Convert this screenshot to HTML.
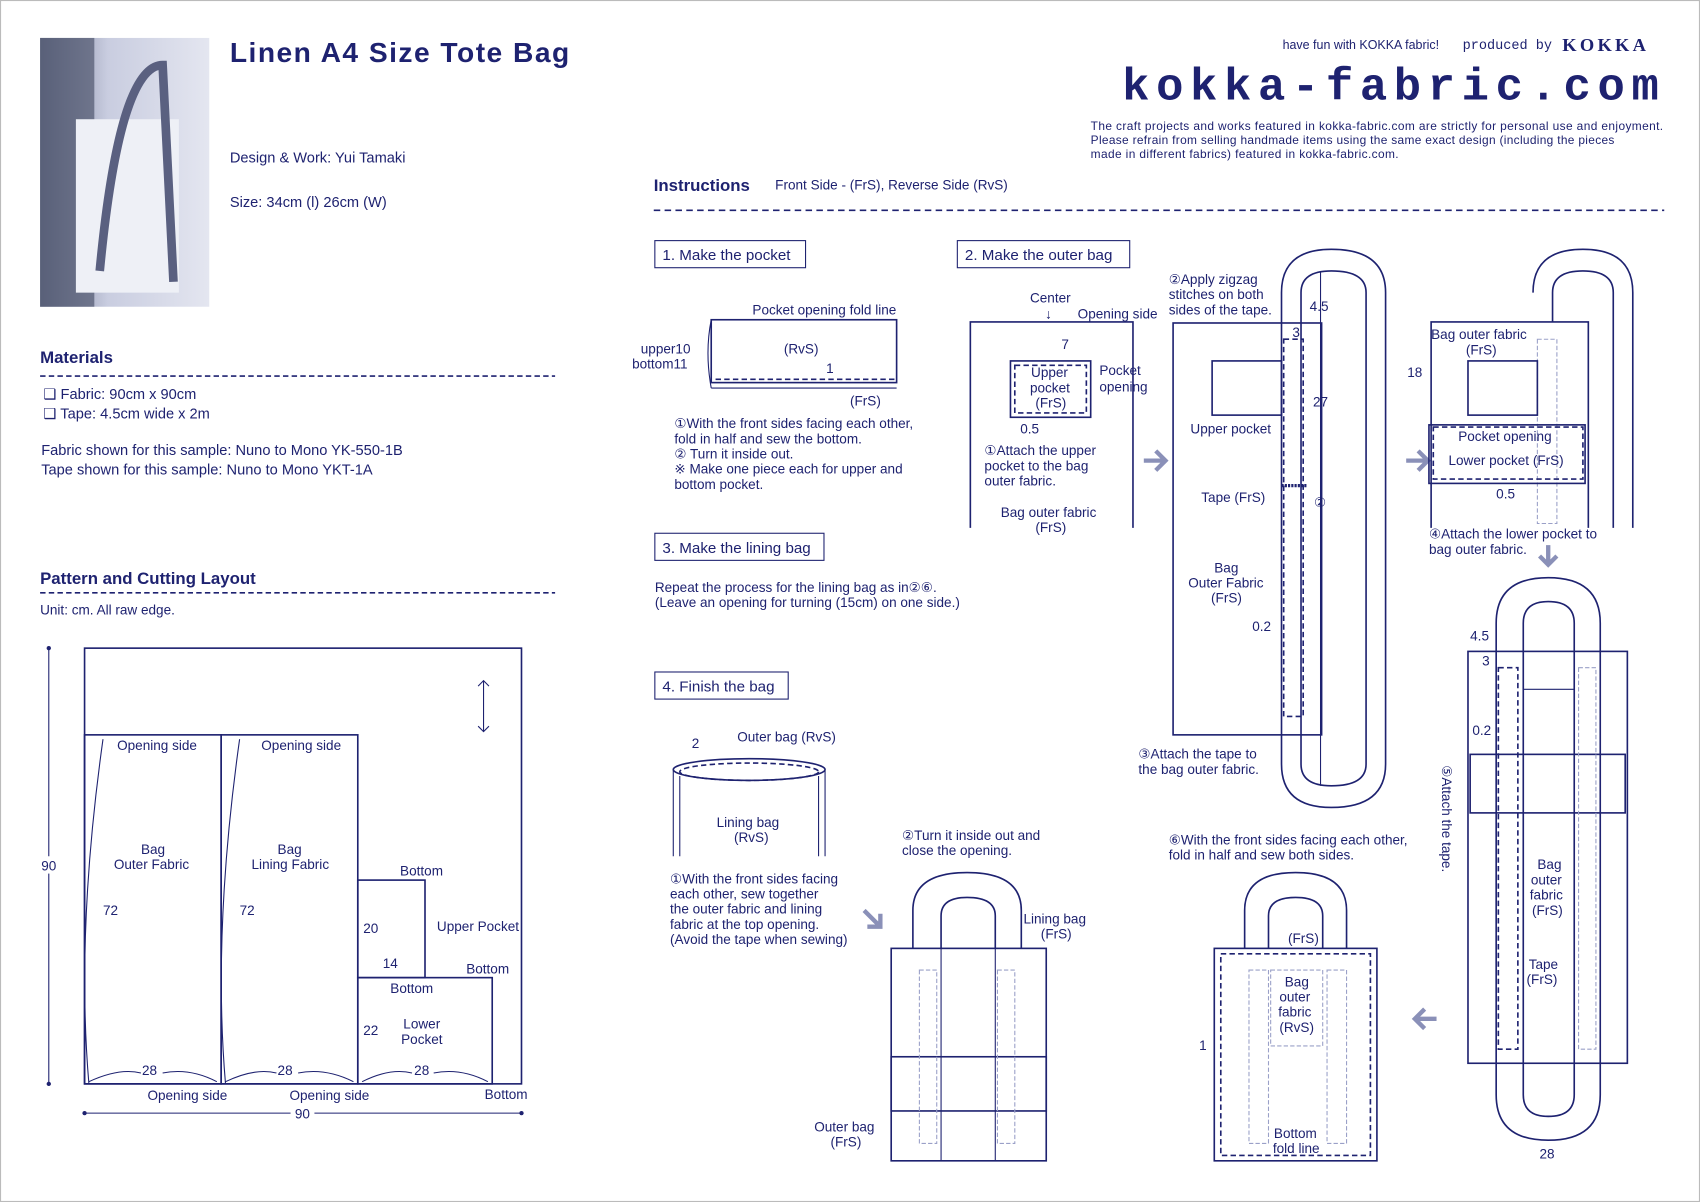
<!DOCTYPE html>
<html><head><meta charset="utf-8"><style>
html,body{margin:0;padding:0;background:#fff}
svg{display:block}
text{font-family:"Liberation Sans",sans-serif;fill:#1e2270;font-size:12.5px}
.b{font-weight:bold}
.l{fill:none;stroke:#1e2270;stroke-width:1.5}
.t{fill:none;stroke:#1e2270;stroke-width:1}
.d{fill:none;stroke:#1e2270;stroke-width:2;stroke-dasharray:5 3}
.g{fill:none;stroke:#9aa0c8;stroke-width:1;stroke-dasharray:4 2}
</style></head><body>
<svg width="1700" height="1202" viewBox="0 0 1568 1109" preserveAspectRatio="none">
<rect x="0.5" y="0.5" width="1567" height="1108" fill="#fff" stroke="#bbb"/>
<defs><linearGradient id="ph" x1="0" x2="1"><stop offset="0" stop-color="#6f7690"/><stop offset="0.4" stop-color="#c9cde0"/><stop offset="1" stop-color="#e4e6f0"/></linearGradient></defs>
<rect x="37" y="35" width="156" height="248" fill="url(#ph)"/>
<rect x="37" y="35" width="50" height="248" fill="#50576f" opacity="0.7"/>
<rect x="70" y="110" width="95" height="160" fill="#eef0f6"/>
<path d="M92 250 Q110 60 150 60 L160 260" fill="none" stroke="#5a6080" stroke-width="8"/>
<text x="212" y="57" class="b" style="font-size:26px" textLength="313">Linen A4 Size Tote Bag</text>
<text x="212" y="150" style="font-size:13.5px">Design &amp; Work: Yui Tamaki</text>
<text x="212" y="191" style="font-size:13.5px">Size: 34cm (l)  26cm (W)</text>
<text x="37" y="335" class="b" style="font-size:15.5px">Materials</text>
<line x1="37" y1="347" x2="512" y2="347" class="t" stroke-dasharray="5 3" style="stroke-width:1.5"/>
<text x="40" y="368" style="font-size:13.5px">❑ Fabric: 90cm x 90cm</text>
<text x="40" y="386" style="font-size:13.5px">❑ Tape: 4.5cm wide x 2m</text>
<text x="38" y="420" style="font-size:13.5px">Fabric shown for this sample: Nuno to Mono YK-550-1B</text>
<text x="38" y="438" style="font-size:13.5px">Tape shown for this sample: Nuno to Mono YKT-1A</text>
<text x="37" y="539" class="b" style="font-size:15.5px">Pattern and Cutting Layout</text>
<line x1="37" y1="547" x2="512" y2="547" class="t" stroke-dasharray="5 3" style="stroke-width:1.5"/>
<text x="37" y="567">Unit: cm.   All raw edge.</text>
<rect x="78" y="598" width="403" height="402" class="l"/>
<rect x="78" y="678" width="126" height="322" class="l"/>
<rect x="204" y="678" width="126" height="322" class="l"/>
<rect x="330" y="812" width="62" height="90" class="l"/>
<rect x="330" y="902" width="124" height="98" class="l"/>
<line x1="45" y1="598" x2="45" y2="1000" class="t"/><circle cx="45" cy="598" r="2" fill="#1e2270"/><circle cx="45" cy="1000" r="2" fill="#1e2270"/>
<line x1="78" y1="1027" x2="481" y2="1027" class="t"/><circle cx="78" cy="1027" r="2" fill="#1e2270"/><circle cx="481" cy="1027" r="2" fill="#1e2270"/>
<rect x="36" y="790" width="18" height="16" fill="#fff"/><text x="38" y="803">90</text>
<rect x="268" y="1020" width="22" height="14" fill="#fff"/><text x="272" y="1032">90</text>
<path d="M446 628 L446 675 M441 633 L446 628 L451 633 M441 670 L446 675 L451 670" class="t"/>
<text x="108" y="692">Opening side</text><text x="241" y="692">Opening side</text>
<text x="130" y="788">Bag</text><text x="105" y="802">Outer Fabric</text>
<text x="256" y="788">Bag</text><text x="232" y="802">Lining Fabric</text>
<text x="95" y="844">72</text><text x="221" y="844">72</text>
<path d="M82 1000 Q70 860 95 682 M208 1000 Q196 860 221 682" class="t"/>
<text x="131" y="992">28</text><text x="256" y="992">28</text><text x="382" y="992">28</text>
<path d="M82 998 Q110 985 130 990 M200 998 Q175 985 150 990 M208 998 Q235 985 255 990 M326 998 Q300 985 275 990 M334 998 Q360 985 380 990 M450 998 Q425 985 400 990" class="t"/>
<text x="136" y="1015">Opening side</text><text x="267" y="1015">Opening side</text><text x="447" y="1014">Bottom</text>
<text x="369" y="808">Bottom</text><text x="403" y="859">Upper Pocket</text><text x="335" y="861">20</text>
<text x="353" y="893">14</text><text x="360" y="916">Bottom</text><text x="430" y="898">Bottom</text>
<text x="335" y="955">22</text><text x="372" y="949">Lower</text><text x="370" y="963">Pocket</text>
<text x="1183" y="45" style="font-size:11.5px">have fun with KOKKA fabric!</text>
<text x="1349" y="45" style="font-family:'Liberation Mono',monospace;font-size:12.5px">produced by</text>
<text x="1441" y="47" class="b" style="font-family:'Liberation Serif',serif;font-size:17px;letter-spacing:3px">KOKKA</text>
<text x="1035" y="92" class="b" style="font-size:42px;font-family:'Liberation Mono',monospace" textLength="495" lengthAdjust="spacing">kokka-fabric.com</text>
<text x="1006" y="120" style="font-size:11px" textLength="528">The craft projects and works featured in kokka-fabric.com are strictly for personal use and enjoyment.</text>
<text x="1006" y="133" style="font-size:11px" textLength="483">Please refrain from selling handmade items using the same exact design (including the pieces</text>
<text x="1006" y="146" style="font-size:11px" textLength="284">made in different fabrics) featured in kokka-fabric.com.</text>
<text x="603" y="176" class="b" style="font-size:15.5px">Instructions</text>
<text x="715" y="175">Front Side - (FrS), Reverse Side (RvS)</text>
<line x1="603" y1="194" x2="1535" y2="194" class="t" stroke-dasharray="6 4" style="stroke-width:1.5"/>
<rect x="604" y="222" width="139" height="25" class="t"/><text x="611" y="240" style="font-size:14px">1. Make the pocket</text>
<rect x="883" y="222" width="159" height="25" class="t"/><text x="890" y="240" style="font-size:14px">2. Make the outer bag</text>
<rect x="604" y="492" width="156" height="25" class="t"/><text x="611" y="510" style="font-size:14px">3. Make the lining bag</text>
<rect x="604" y="620" width="123" height="25" class="t"/><text x="611" y="638" style="font-size:14px">4. Finish the bag</text>
<rect x="656" y="295" width="171" height="58" class="l"/><line x1="656" y1="358" x2="827" y2="358" class="t"/>
<path d="M656 295 Q650 325 656 358" class="t"/>
<line x1="660" y1="350" x2="827" y2="350" class="d" style="stroke-width:1.5"/>
<text x="694" y="290">Pocket opening fold line</text><text x="723" y="326">(RvS)</text><text x="762" y="344">1</text><text x="784" y="374">(FrS)</text>
<text x="591" y="326">upper10</text><text x="583" y="340">bottom11</text>
<text x="622" y="395">①With the front sides facing each other,</text>
<text x="622" y="409">fold in half and sew the bottom.</text>
<text x="622" y="423">② Turn it inside out.</text>
<text x="622" y="437">※ Make one piece each for upper and</text>
<text x="622" y="451">bottom pocket.</text>
<path d="M895 487 L895 297 L1045 297 L1045 487" class="l"/>
<text x="950" y="279">Center</text><text x="964" y="294">↓</text><text x="994" y="294">Opening side</text>
<rect x="932" y="333" width="74" height="52" class="l"/><rect x="936" y="337" width="66" height="44" class="d" style="stroke-width:1.5"/>
<text x="979" y="322">7</text><text x="951" y="348">Upper</text><text x="950" y="362">pocket</text><text x="955" y="376">(FrS)</text>
<text x="1014" y="346">Pocket</text><text x="1014" y="361">opening</text><text x="941" y="400">0.5</text>
<text x="908" y="420">①Attach the upper</text><text x="908" y="434">pocket to the bag</text><text x="908" y="448">outer fabric.</text>
<text x="923" y="477">Bag outer fabric</text><text x="955" y="491">(FrS)</text>
<path d="M1055 425 L1075 425 M1066 416 L1075 425 L1066 434" stroke="#8a90b8" stroke-width="4" fill="none"/>
<rect x="1082" y="298" width="137" height="380" class="l"/>
<path d="M1182 270 Q1182 230 1228 230 Q1278 230 1278 270 L1278 705 Q1278 745 1228 745 Q1182 745 1182 705 Z" class="l"/>
<path d="M1200 270 Q1200 250 1228 250 Q1260 250 1260 270 L1260 705 Q1260 725 1228 725 Q1200 725 1200 705 Z" class="l"/>
<line x1="1218" y1="250" x2="1218" y2="725" class="t"/>
<rect x="1184" y="313" width="18" height="348" class="d" style="stroke-width:1.5"/>
<rect x="1118" y="333" width="64" height="50" class="l"/>
<text x="1078" y="262">②Apply zigzag</text><text x="1078" y="276">stitches on both</text><text x="1078" y="290">sides of the tape.</text>
<text x="1208" y="287">4.5</text><text x="1192" y="311">3</text><text x="1211" y="375">27</text>
<text x="1098" y="400">Upper pocket</text><text x="1108" y="463">Tape (FrS)</text><text x="1212" y="468">②</text>
<line x1="1182" y1="448" x2="1205" y2="448" stroke="#1e2270" stroke-width="3" stroke-dasharray="2 1"/>
<text x="1120" y="528">Bag</text><text x="1096" y="542">Outer Fabric</text><text x="1117" y="556">(FrS)</text><text x="1155" y="582">0.2</text>
<text x="1050" y="700">③Attach the tape to</text><text x="1050" y="714">the bag outer fabric.</text>
<path d="M1297 425 L1317 425 M1308 416 L1317 425 L1308 434" stroke="#8a90b8" stroke-width="4" fill="none"/>
<path d="M1320 487 L1320 297 L1465 297 L1465 487" class="l"/>
<path d="M1414 270 Q1414 230 1460 230 Q1506 230 1506 270 L1506 487 M1432 297 L1432 270 Q1432 250 1460 250 Q1488 250 1488 270 L1488 487" class="l"/>
<rect x="1418" y="313" width="18" height="170" class="g"/>
<rect x="1354" y="333" width="64" height="50" class="l"/>
<rect x="1318" y="392" width="144" height="54" fill="#fff" class="l"/><rect x="1322" y="394" width="138" height="48" class="d" style="stroke-width:1.5"/>
<text x="1320" y="313">Bag outer fabric</text><text x="1352" y="327">(FrS)</text><text x="1298" y="348">18</text>
<text x="1345" y="407">Pocket opening</text><text x="1336" y="429">Lower pocket (FrS)</text><text x="1380" y="460">0.5</text>
<text x="1318" y="497">④Attach the lower pocket to</text><text x="1318" y="511">bag outer fabric.</text>
<path d="M1428 503 L1428 520 M1420 513 L1428 521 L1436 513" stroke="#8a90b8" stroke-width="4" fill="none"/>
<rect x="1354" y="601" width="147" height="380" class="l"/>
<path d="M1380 575 Q1380 533 1428 533 Q1476 533 1476 575 L1476 1010 Q1476 1052 1428 1052 Q1380 1052 1380 1010 Z" class="l"/>
<path d="M1405 575 Q1405 555 1428 555 Q1452 555 1452 575 L1452 1010 Q1452 1030 1428 1030 Q1405 1030 1405 1010 Z" class="l"/>
<rect x="1382" y="616" width="18" height="352" class="d" style="stroke-width:1.5"/>
<rect x="1356" y="696" width="143" height="54" class="l"/>
<rect x="1456" y="616" width="16" height="352" class="g"/>
<line x1="1405" y1="636" x2="1452" y2="636" class="t"/>
<text x="1356" y="591">4.5</text><text x="1367" y="614">3</text><text x="1358" y="678">0.2</text>
<text x="1418" y="802">Bag</text><text x="1412" y="816">outer</text><text x="1411" y="830">fabric</text><text x="1413" y="844">(FrS)</text>
<text x="1410" y="894">Tape</text><text x="1408" y="908">(FrS)</text><text x="1420" y="1069">28</text>
<text transform="translate(1330,706) rotate(90)">⑤Attach the tape.</text>
<path d="M1325 940 L1305 940 M1314 931 L1305 940 L1314 949" stroke="#8a90b8" stroke-width="4" fill="none"/>
<text x="604" y="546">Repeat the process for the lining bag as in②⑥.</text>
<text x="604" y="560">(Leave an opening for turning (15cm) on one side.)</text>
<ellipse cx="691" cy="710" rx="70" ry="10" class="l"/><ellipse cx="691" cy="712" rx="64" ry="8" class="d" style="stroke-width:1.5"/>
<path d="M621 710 L621 790 M627 716 L627 790 M761 710 L761 790 M755 716 L755 790" class="t"/>
<text x="680" y="684">Outer bag (RvS)</text><text x="638" y="690">2</text>
<text x="661" y="763">Lining bag</text><text x="677" y="777">(RvS)</text>
<text x="618" y="815">①With the front sides facing</text><text x="618" y="829">each other, sew together</text><text x="618" y="843">the outer fabric and lining</text><text x="618" y="857">fabric at the top opening.</text><text x="618" y="871"> (Avoid the tape when sewing)</text>
<path d="M797 840 L812 855 M812 843 L812 855 L800 855" stroke="#8a90b8" stroke-width="4" fill="none"/>
<text x="832" y="775">②Turn it inside out and</text><text x="832" y="789">close the opening.</text>
<rect x="822" y="875" width="143" height="196" class="l"/>
<path d="M842 875 L842 840 Q842 805 892 805 Q942 805 942 840 L942 875 M868 875 L868 845 Q868 828 892 828 Q918 828 918 845 L918 875" class="l"/>
<path d="M868 875 L868 1071 M918 875 L918 1071" class="t"/>
<rect x="822" y="975" width="143" height="50" class="l"/>
<rect x="848" y="895" width="16" height="160" class="g"/><rect x="920" y="895" width="16" height="160" class="g"/>
<text x="944" y="852">Lining bag</text><text x="960" y="866">(FrS)</text>
<text x="751" y="1044">Outer bag</text><text x="766" y="1058">(FrS)</text>
<text x="1078" y="779">⑥With the front sides facing each other,</text><text x="1078" y="793">fold in half and sew both sides.</text>
<rect x="1120" y="875" width="150" height="196" class="l"/><rect x="1126" y="880" width="138" height="186" class="d" style="stroke-width:1.5"/>
<path d="M1148 875 L1148 840 Q1148 805 1195 805 Q1242 805 1242 840 L1242 875 M1170 875 L1170 845 Q1170 828 1195 828 Q1220 828 1220 845 L1220 875" class="l"/>
<rect x="1152" y="895" width="18" height="160" class="g"/><rect x="1224" y="895" width="18" height="160" class="g"/>
<rect x="1172" y="895" width="48" height="70" class="g"/>
<text x="1188" y="870">(FrS)</text><text x="1185" y="910">Bag</text><text x="1180" y="924">outer</text><text x="1179" y="938">fabric</text><text x="1180" y="952">(RvS)</text>
<text x="1106" y="969">1</text><text x="1175" y="1050">Bottom</text><text x="1174" y="1064">fold line</text>
</svg>
</body></html>
